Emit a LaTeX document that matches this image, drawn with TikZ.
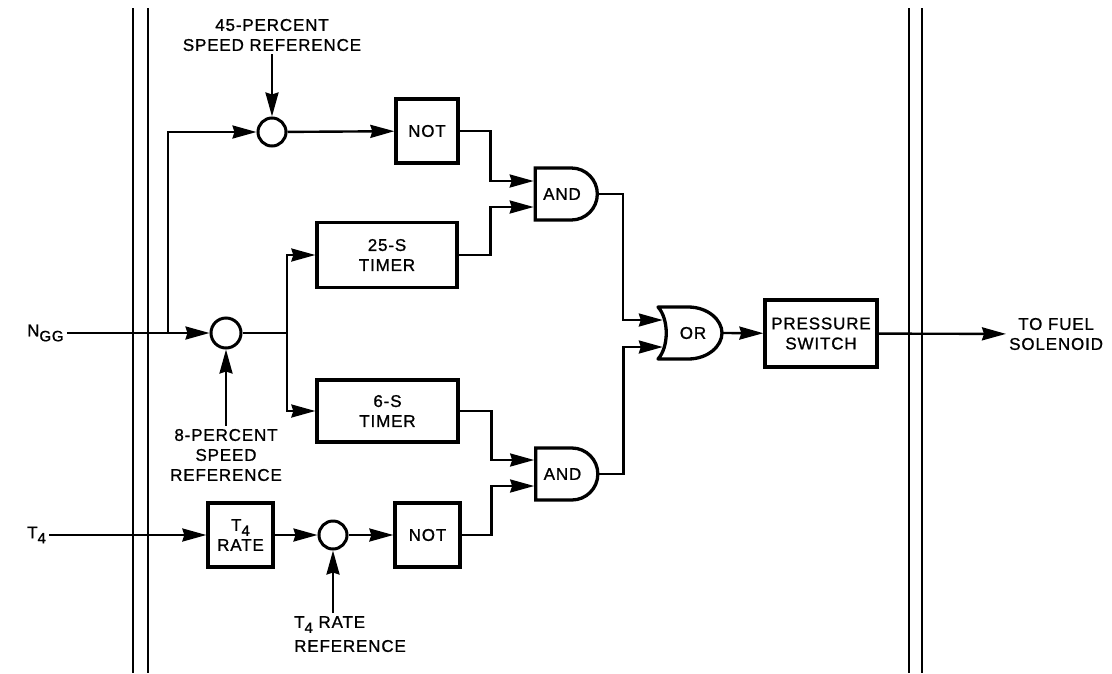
\documentclass[tikz,border=0pt]{standalone}
\usepackage{fontspec}
\setmainfont{Liberation Sans}[LetterSpace=5,FakeBold=1]
\usetikzlibrary{arrows.meta,calc,shapes.misc}
\newcommand\lbl{\fontsize{17}{20}\selectfont}
\newcommand\sub[1]{\raisebox{-5pt}{\fontsize{15}{15}\selectfont #1}}

\begin{document}
\begin{tikzpicture}[x=1pt,y=-1pt,
    line width=2.4pt,
    font=\lbl,
    arr/.style={-{Stealth[length=24pt,width=13pt,inset=2pt]}},
    blk/.style={draw,line width=3.3pt,inner sep=0pt,align=center},
    sumpt/.style={draw,circle,line width=3pt,minimum size=#1,inner sep=0pt},
    andgate/.style={draw,line width=3.3pt,rounded rectangle,rounded rectangle left arc=none,
      minimum width=62pt,minimum height=52pt,inner sep=0pt},
    txt/.style={align=center,inner sep=2pt},
    wall/.style={line width=1.4pt}]
	%%%%% START %%%%%
	\useasboundingbox (0,0) rectangle (1112,673);

	% panel walls
	\draw[wall] (133,8) -- (133,673);
	\draw[wall] (148,8) -- (148,673);
	\draw[wall] (909,8) -- (909,673);
	\draw[wall] (922,8) -- (922,673);

	% inputs and references
	\node[txt,anchor=west] (ngg) at (24,333) {N\sub{GG}};
	\node[txt,anchor=west] (tfour) at (24,535) {T\sub{4}};
	\node[txt] (ref45) at (272,35) {45-PERCENT\\SPEED REFERENCE};
	\node[txt] (ref8) at (226,455) {8-PERCENT\\SPEED\\REFERENCE};
	\node[txt,align=left,anchor=north west] (reft4) at (291,613) {T\sub{4} RATE\\[4pt]REFERENCE};

	% summing points
	\node[sumpt=28pt] (sumhi) at (272,132) {};
	\node[sumpt=30pt] (sumlo) at (226,333) {};
	\node[sumpt=28pt] (sumrate) at (333,535) {};

	% blocks
	\node[blk,minimum width=62pt,minimum height=64pt] (nothi) at (427,131) {NOT};
	\node[blk,minimum width=140pt,minimum height=65pt] (tmrlong) at (387,255) {25-S\\TIMER};
	\node[blk,minimum width=141pt,minimum height=62pt] (tmrshort) at (387.5,411) {6-S\\TIMER};
	\node[blk,minimum width=65pt,minimum height=64pt] (raterate) at (240.5,535) {T\sub{4}\\RATE};
	\node[blk,minimum width=65pt,minimum height=64pt] (notlo) at (427.5,535) {NOT};
	\node[blk,minimum width=112pt,minimum height=67pt] (press) at (821,333.5) {PRESSURE\\SWITCH};
	\node[txt,anchor=west] (fuel) at (1006,334) {TO FUEL\\SOLENOID};

	% gates
	\node[andgate] (andhi) at (566,194) {\hspace*{-8pt}AND};
	\node[andgate] (andlo) at (566.5,474) {\hspace*{-8pt}AND};
	\node[minimum width=64pt,minimum height=52pt,inner sep=0pt] (orgate) at (690,333) {\hspace*{6pt}OR};
	\draw[line width=3.3pt,line join=round] (658,307) -- (688,307)
	  .. controls (708,307) and (722,320) .. (722,333)
	  .. controls (722,346) and (708,359) .. (688,359) -- (658,359)
	  .. controls (669,347) and (669,319) .. cycle;

	% junctions
	\coordinate (branch) at (168,333);
	\coordinate (split) at (287,333);

	% connectors
	\draw[arr] (ngg) -- (sumlo);
	\draw[arr] (branch) |- (sumhi);
	\draw[arr] (ref45) -- (sumhi);
	\draw[arr] (ref8) -- (sumlo);
	\draw[arr] (sumhi) -- (nothi);
	\draw (sumlo) -- (split);
	\draw[arr] (split) |- (tmrlong);
	\draw[arr] (split) |- (tmrshort);

	\draw[arr] (tfour) -- (raterate);
	\draw[arr] (raterate) -- (sumrate);
	\draw[arr] (sumrate) -- (notlo);
	\draw[arr] (sumrate |- reft4.north) -- (sumrate);

	\draw[arr] (nothi.east) -- ++(31,0) |- ([yshift=13pt]andhi.west);
	\draw[arr] (tmrlong.east) -- ++(32,0) |- ([yshift=-13pt]andhi.west);
	\draw[arr] (tmrshort.east) -- ++(32,0) |- ([yshift=14pt]andlo.west);
	\draw[arr] (notlo.east) -- ++(30,0) |- ([yshift=-12pt]andlo.west);

	\draw[arr] (andhi.east) -- ++(24,0) |- ([xshift=6pt,yshift=13pt]orgate.west);
	\draw[arr] (andlo.east) -- ++(24,0) |- ([xshift=6pt,yshift=-14pt]orgate.west);
	\draw[arr] (orgate.east) -- (press);
	\draw[arr] (press) -- (fuel);
	%%%%% END %%%%%
\end{tikzpicture}
\end{document}
